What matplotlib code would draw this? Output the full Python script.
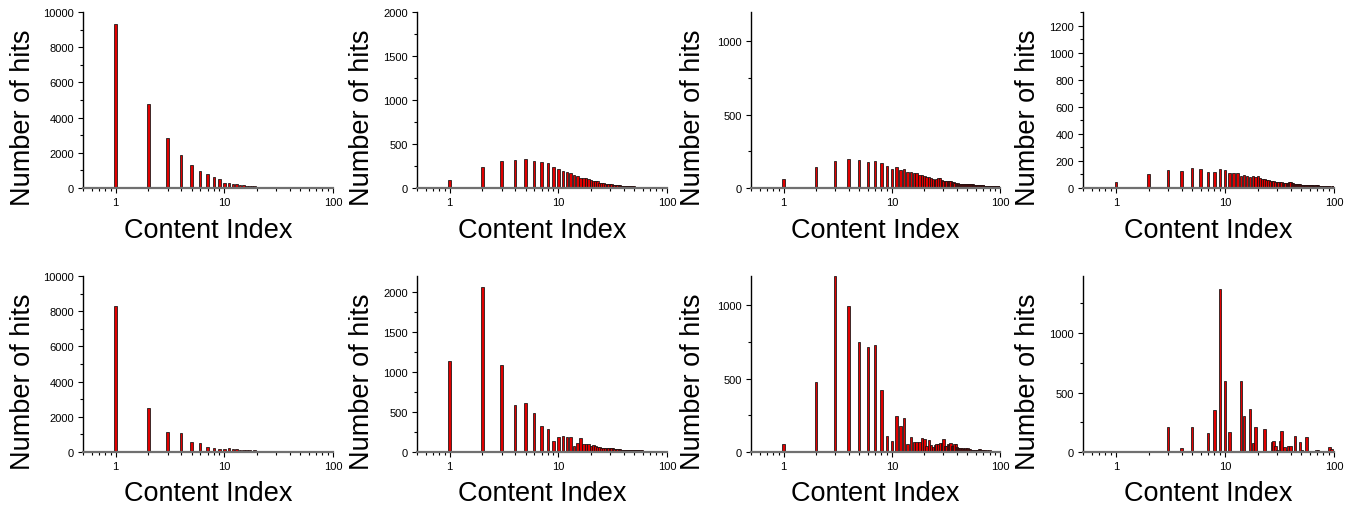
import numpy as np
import matplotlib
matplotlib.use("Agg")
import matplotlib.pyplot as plt
from matplotlib.ticker import MultipleLocator, LogLocator, NullFormatter, FixedLocator, FixedFormatter

plt.rcParams['font.family'] = ['Liberation Sans', 'DejaVu Sans']

# ---------------- data ----------------
idx_full = list(range(1, 101))

hits_top1 = [9300, 4790, 2840, 1860, 1310, 985, 795, 645, 490, 300,
             300, 246, 227, 190, 160, 135, 115, 100, 90, 80,
             72, 66, 60, 55, 50, 46, 43, 40, 38, 35,
             33, 31, 29, 28, 26, 25, 24, 23, 22, 21,
             20, 19, 19, 18, 17, 17, 16, 16, 15, 15,
             14, 14, 13, 13, 13, 12, 12, 12, 11, 11,
             11, 10, 10, 10, 10, 9, 9, 9, 9, 9,
             8, 8, 8, 8, 8, 8, 7, 7, 7, 7,
             7, 7, 7, 7, 6, 6, 6, 6, 6, 6,
             6, 6, 6, 5, 5, 5, 5, 5, 5, 5]

hits_top2 = [87, 235, 307, 322, 330, 303, 300, 280, 235, 216,
             190, 182, 167, 148, 136, 117, 110, 117, 98, 87,
             76, 80, 76, 60, 55, 52, 50, 46, 44, 42,
             40, 38, 36, 34, 32, 31, 30, 28, 27, 26,
             25, 24, 23, 22, 21, 20, 19, 19, 18, 17,
             17, 16, 16, 15, 15, 14, 14, 13, 13, 12,
             12, 12, 11, 11, 11, 10, 10, 10, 10, 9,
             9, 9, 9, 8, 8, 8, 8, 8, 7, 7,
             7, 7, 7, 7, 6, 6, 6, 6, 6, 6,
             6, 5, 5, 5, 5, 5, 5, 5, 5, 5]

hits_top3 = [63, 140, 184, 197, 193, 177, 181, 170, 152, 129,
             145, 122, 131, 111, 109, 102, 104, 91, 86, 82,
             78, 74, 70, 62, 54, 60, 68, 70, 55, 48,
             50, 47, 45, 46, 45, 40, 38, 35, 32, 30,
             32, 30, 28, 30, 29, 27, 26, 25, 24, 24,
             28, 25, 26, 30, 27, 24, 22, 21, 22, 21,
             20, 19, 19, 18, 20, 19, 18, 17, 18, 18,
             17, 16, 17, 16, 15, 16, 15, 14, 15, 14,
             14, 13, 14, 13, 12, 13, 12, 12, 13, 12,
             11, 12, 11, 11, 12, 11, 10, 11, 10, 12]

hits_top4 = [44, 100, 133, 125, 150, 140, 120, 118, 138, 133,
             113, 113, 113, 86, 93, 88, 81, 88, 80, 91,
             71, 69, 66, 59, 61, 55, 52, 50, 48, 44,
             45, 43, 42, 40, 38, 40, 38, 40, 42, 44,
             38, 35, 33, 31, 30, 29, 28, 27, 26, 25,
             25, 24, 23, 23, 22, 22, 21, 21, 20, 20,
             20, 19, 19, 19, 18, 18, 18, 19, 20, 20,
             19, 18, 17, 17, 16, 16, 15, 15, 15, 14,
             14, 14, 13, 13, 13, 13, 12, 12, 12, 12,
             11, 11, 11, 11, 10, 10, 12, 13, 12, 11]

hits_bot1 = [8300, 2495, 1115, 1060, 586, 510, 284, 227, 170, 190,
             208, 170, 170, 130, 110, 100, 95, 85, 90, 75,
             65, 60, 58, 52, 50, 45, 42, 40, 38, 35,
             33, 31, 30, 28, 27, 26, 25, 24, 23, 22,
             21, 20, 19, 18, 18, 17, 16, 16, 15, 15,
             14, 14, 13, 13, 13, 12, 12, 12, 11, 11,
             11, 10, 10, 10, 10, 9, 9, 9, 9, 9,
             8, 8, 8, 8, 8, 8, 7, 7, 7, 7,
             7, 7, 7, 7, 6, 6, 6, 6, 6, 6,
             6, 6, 6, 5, 5, 5, 5, 5, 5, 5]

hits_bot2 = [1136, 2059, 1086, 591, 616, 482, 323, 293, 143, 193,
             197, 193, 184, 75, 109, 172, 96, 100, 98, 80,
             92, 71, 59, 60, 50, 45, 48, 44, 46, 50,
             48, 45, 42, 38, 42, 36, 33, 30, 28, 29,
             27, 26, 28, 25, 24, 23, 25, 22, 24, 25,
             22, 20, 19, 21, 20, 18, 19, 17, 21, 18,
             17, 16, 16, 15, 16, 15, 14, 14, 17, 15,
             14, 13, 13, 14, 12, 12, 13, 11, 12, 12,
             11, 11, 10, 11, 10, 10, 9, 10, 9, 9,
             9, 8, 9, 8, 8, 8, 8, 7, 8, 7]

hits_bot3 = [54, 476, 1200, 993, 753, 717, 730, 422, 111, 73,
             243, 179, 231, 54, 100, 66, 70, 66, 95, 88,
             43, 82, 45, 35, 50, 54, 52, 58, 62, 88,
             42, 38, 54, 48, 59, 44, 40, 52, 54, 35,
             30, 28, 25, 22, 26, 20, 18, 25, 22, 25,
             18, 16, 20, 15, 14, 12, 10, 13, 11, 10,
             12, 14, 16, 18, 18, 16, 14, 12, 13, 12,
             11, 12, 10, 10, 9, 12, 10, 9, 10, 11,
             10, 9, 8, 9, 8, 8, 9, 7, 8, 8,
             7, 8, 7, 7, 6, 6, 7, 6, 8, 10]

idx_bot4 = [3, 4, 5, 7, 8, 9, 10, 11, 14, 15, 17, 18, 19, 23, 27, 28, 29, 30,
            32, 33, 35, 37, 38, 40, 44, 49, 51, 56, 60, 65, 69, 71, 76, 82,
            87, 91, 95]
hits_bot4 = [207, 34, 207, 160, 355, 1371, 600, 165, 600, 300, 360, 75, 207, 193,
             88, 90, 48, 20, 95, 174, 40, 15, 53, 53, 137, 80, 20, 128, 12, 8,
             15, 20, 6, 8, 10, 39, 22]

ylims = [10000, 2000, 1200, 1300, 10000, 2200, 1200, 1480]
ymajor = [[0, 2000, 4000, 6000, 8000, 10000],
          [0, 500, 1000, 1500, 2000],
          [0, 500, 1000],
          [0, 200, 400, 600, 800, 1000, 1200],
          [0, 2000, 4000, 6000, 8000, 10000],
          [0, 500, 1000, 1500, 2000],
          [0, 500, 1000],
          [0, 500, 1000]]
yminor_step = [1000, 250, 250, 100, 1000, 250, 250, 250]
xtick_vals = [1, 10, 100]
xtick_labels = ['1', '10', '100']

panels = [(idx_full, hits_top1), (idx_full, hits_top2), (idx_full, hits_top3),
          (idx_full, hits_top4), (idx_full, hits_bot1), (idx_full, hits_bot2),
          (idx_full, hits_bot3), (idx_bot4, hits_bot4)]

# ---------------- layout (pixels) ----------------
W, H = 1355, 510
lefts = [83, 417, 751, 1083]
widths = [250, 250, 249, 251]
tops = [13, 277]
ax_h = 176
ylab_off = [-60, -55, -58, -55]

fig = plt.figure(figsize=(W / 100, H / 100), dpi=100)

half = 10 ** 0.0115
for k, (xs, ys) in enumerate(panels):
    r, c = divmod(k, 4)
    ax = fig.add_axes([lefts[c] / W, 1 - (tops[r] + ax_h) / H, widths[c] / W, ax_h / H])
    xs = np.asarray(xs, dtype=float)
    ys = np.asarray(ys, dtype=float)
    ax.bar(xs / half, ys, width=xs * half - xs / half, align='edge',
           facecolor='#e00000', edgecolor='#111111', linewidth=0.55, zorder=2)
    ax.set_xscale('log')
    ax.set_xlim(0.5, 100)
    ax.set_ylim(0, ylims[k])
    for s in ['top', 'right']:
        ax.spines[s].set_visible(False)
    ax.spines['left'].set_linewidth(1.0)
    ax.spines['left'].set_color('black')
    ax.spines['bottom'].set_linewidth(1.6)
    ax.spines['bottom'].set_color('#707070')
    ax.spines['bottom'].set_zorder(3)
    ax.xaxis.set_major_locator(FixedLocator(xtick_vals))
    ax.xaxis.set_major_formatter(FixedFormatter(xtick_labels))
    ax.xaxis.set_minor_locator(LogLocator(base=10, subs=np.arange(2, 10)))
    ax.xaxis.set_minor_formatter(NullFormatter())
    ax.yaxis.set_major_locator(FixedLocator(ymajor[k]))
    ax.yaxis.set_major_formatter(FixedFormatter([str(v) for v in ymajor[k]]))
    ax.yaxis.set_minor_locator(MultipleLocator(yminor_step[k]))
    ax.tick_params(axis='both', which='major', direction='out', length=3.5, width=0.8,
                   labelsize=8, pad=3, colors='black')
    ax.tick_params(axis='both', which='minor', direction='out', length=2.2, width=0.8)
    ax.tick_params(axis='x', which='both', color='black')
    ax.set_ylabel('Number of hits', fontsize=19.5, va='center')
    ax.yaxis.set_label_coords(ylab_off[c] / widths[c], 0.405)
    ax.set_xlabel('Content Index', fontsize=19.5, va='center')
    ax.xaxis.set_label_coords(0.5, -41.5 / ax_h)
    ax.patch.set_alpha(0)

fig.savefig('out.png', dpi=100)
